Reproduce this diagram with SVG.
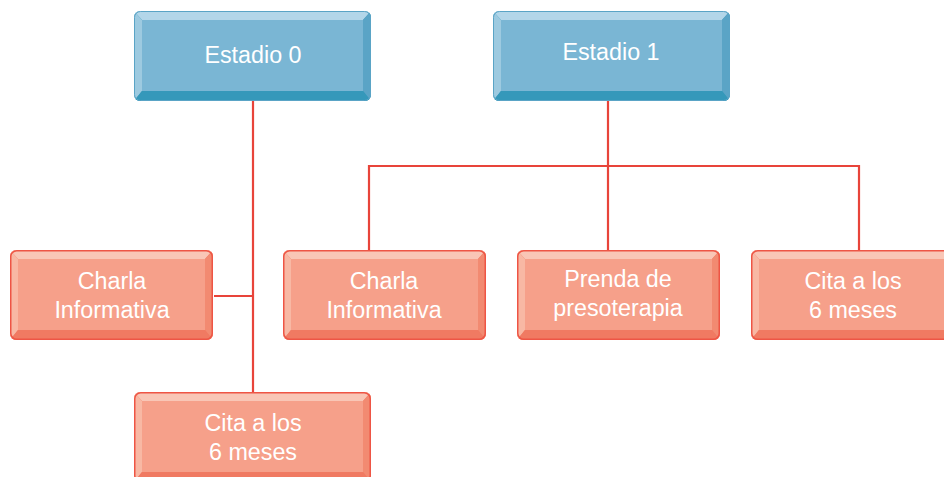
<svg xmlns="http://www.w3.org/2000/svg" xmlns:xlink="http://www.w3.org/1999/xlink" width="944" height="477" viewBox="0 0 944 477">
<style>
.t{font-family:"Liberation Sans",Arial,sans-serif;font-size:23.3px;fill:#fff;text-anchor:middle}
.c{stroke:#E8443A;stroke-width:2.2;fill:none}
</style>
<defs>
<clipPath id="cA"><rect x="0" y="0" width="237" height="90" rx="6"/></clipPath>
<clipPath id="cB"><rect x="0" y="0" width="203" height="90" rx="6"/></clipPath>
<g id="blueA">
<g clip-path="url(#cA)">
<rect x="0" y="0" width="237" height="90" fill="#3A9ABB"/>
<polygon points="0,0 237,0 229,9 8,9" fill="#B3D6E9"/>
<polygon points="0,0 8,9 8,80 0,90" fill="#9DCAE0"/>
<polygon points="237,0 237,90 229,80 229,9" fill="#5AA4C6"/>
<polygon points="0,90 237,90 229,80 8,80" fill="#3598BA"/>
<rect x="8" y="9" width="221" height="71" fill="#7AB6D4"/>
</g>
<rect x="0.5" y="0.5" width="236" height="89" rx="6" fill="none" stroke="#5AA4C6" stroke-width="1"/>
</g>
<g id="salB">
<g clip-path="url(#cB)">
<rect x="0" y="0" width="203" height="90" fill="#F07C64"/>
<polygon points="0,0 203,0 195,9 8,9" fill="#F9C6B6"/>
<polygon points="0,0 8,9 8,80 0,90" fill="#F8B8A4"/>
<polygon points="203,0 203,90 195,80 195,9" fill="#F28A71"/>
<polygon points="0,90 203,90 195,80 8,80" fill="#F07A62"/>
<rect x="8" y="9" width="187" height="71" fill="#F6A08A"/>
</g>
<rect x="0.75" y="0.75" width="201.5" height="88.5" rx="6" fill="none" stroke="#EE5545" stroke-width="1.5"/>
</g>
<g id="salA">
<g clip-path="url(#cA)">
<rect x="0" y="0" width="237" height="90" fill="#F07C64"/>
<polygon points="0,0 237,0 229,9 8,9" fill="#F9C6B6"/>
<polygon points="0,0 8,9 8,80 0,90" fill="#F8B8A4"/>
<polygon points="237,0 237,90 229,80 229,9" fill="#F28A71"/>
<polygon points="0,90 237,90 229,80 8,80" fill="#F07A62"/>
<rect x="8" y="9" width="221" height="71" fill="#F6A08A"/>
</g>
<rect x="0.75" y="0.75" width="235.5" height="88.5" rx="6" fill="none" stroke="#EE5545" stroke-width="1.5"/>
</g>
</defs>
<g id="connectors">
<path class="c" d="M253,101 V392"/>
<path class="c" d="M214,296 H253"/>
<path class="c" d="M608,101 V250"/>
<path class="c" d="M369,250 V166 H859 V250"/>
</g>
<g id="estadio0">
<use xlink:href="#blueA" x="134" y="11"/>
<text class="t" x="253" y="63">Estadio 0</text>
</g>
<g id="estadio1">
<use xlink:href="#blueA" x="493" y="11"/>
<text class="t" x="611" y="60">Estadio 1</text>
</g>
<g id="charla0">
<use xlink:href="#salB" x="10" y="250"/>
<text class="t" x="112" y="289">Charla</text>
<text class="t" x="112" y="318">Informativa</text>
</g>
<g id="cita0">
<use xlink:href="#salA" x="134" y="392"/>
<text class="t" x="253" y="431">Cita a los</text>
<text class="t" x="253" y="460">6 meses</text>
</g>
<g id="charla1">
<use xlink:href="#salB" x="283" y="250"/>
<text class="t" x="384" y="289">Charla</text>
<text class="t" x="384" y="318">Informativa</text>
</g>
<g id="prenda1">
<use xlink:href="#salB" x="517" y="250"/>
<text class="t" x="618" y="287">Prenda de</text>
<text class="t" x="618" y="316">presoterapia</text>
</g>
<g id="cita1">
<use xlink:href="#salB" x="751" y="250"/>
<text class="t" x="853" y="289">Cita a los</text>
<text class="t" x="853" y="318">6 meses</text>
</g>
</svg>
